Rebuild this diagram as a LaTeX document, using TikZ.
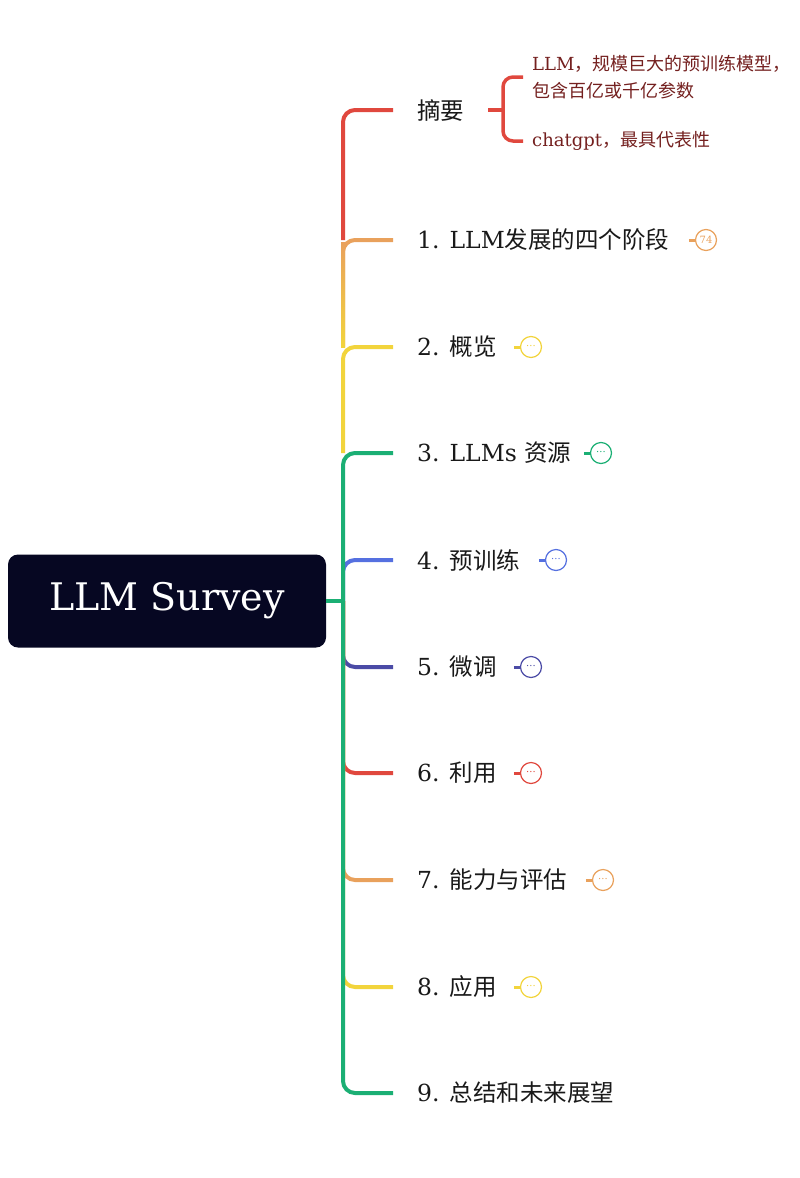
\documentclass[tikz,border=0pt]{standalone}
\usepackage{fontspec}
\usepackage{tikz}
\setmainfont{DejaVu Serif}
\newfontfamily\cjk{Noto Sans CJK SC}

\definecolor{mred}{HTML}{E0483E}
\definecolor{morange}{HTML}{E9A15C}
\definecolor{myellow}{HTML}{F2D43C}
\definecolor{mgreen}{HTML}{1BAF74}
\definecolor{mblue}{HTML}{5570E0}
\definecolor{mindigo}{HTML}{4B4BA6}
\definecolor{rootnavy}{HTML}{060722}
\definecolor{leafred}{HTML}{74201F}

\tikzset{
  root/.style={fill=rootnavy, text=white, rounded corners=10pt, minimum width=318pt,
    minimum height=93pt, font=\fontsize{38}{38}\selectfont},
  topic/.style={anchor=west, inner sep=0pt, text=black!90, font=\fontsize{23.5}{28}\selectfont},
  leaf/.style={anchor=west, inner sep=0pt, align=left, text=leafred, font=\fontsize{18}{27}\selectfont},
  fold/.style={circle, draw=#1, fill=white, text=#1, line width=1.2pt, minimum size=21pt,
    inner sep=0pt, font=\fontsize{10}{10}\selectfont},
  branch/.style={line width=4pt, rounded corners=12pt},
}

\begin{document}
\begin{tikzpicture}[x=1pt, y=-1pt]
  \useasboundingbox (0,0) rectangle (800,1178);
  % root
  \node[root] (llm) at (167,601) {LLM Survey};
  \coordinate (hub) at (343,601);
  % topics
  \node[topic] (b0) at (417,110) {\cjk 摘要};
  \node[topic] (b1) at (417,240) {1. LLM{\cjk 发展的四个阶段}};
  \node[topic] (b2) at (417,347) {2. {\cjk 概览}};
  \node[topic] (b3) at (417,453) {3. LLMs {\cjk 资源}};
  \node[topic] (b4) at (417,560) {4. {\cjk 预训练}};
  \node[topic] (b5) at (417,667) {5. {\cjk 微调}};
  \node[topic] (b6) at (417,773) {6. {\cjk 利用}};
  \node[topic] (b7) at (417,880) {7. {\cjk 能力与评估}};
  \node[topic] (b8) at (417,987) {8. {\cjk 应用}};
  \node[topic] (b9) at (417,1093) {9. {\cjk 总结和未来展望}};

  % branches below the root first, green trunk over them
  \draw[branch, mblue] (hub) |- ([xshift=-24pt]b4.west);
  \draw[branch, mindigo] (hub) |- ([xshift=-24pt]b5.west);
  \draw[branch, mred] (hub) |- ([xshift=-24pt]b6.west);
  \draw[branch, morange] (hub) |- ([xshift=-24pt]b7.west);
  \draw[branch, myellow] (hub) |- ([xshift=-24pt]b8.west);
  \draw[branch, mgreen] (hub) |- ([xshift=-24pt]b9.west);
  \draw[branch, mgreen] (hub) |- ([xshift=-24pt]b3.west);
  \draw[line width=4pt, mgreen] (llm.east) -- (hub);
  % upper trunk, one colour per stretch
  \draw[branch, mred] (b1.west -| hub) |- ([xshift=-24pt]b0.west);
  \draw[branch, morange] (b2.west -| hub) |- ([xshift=-24pt]b1.west);
  \shade[top color=morange, bottom color=myellow] (341,242) rectangle (345,347);
  \draw[branch, myellow] (b3.west -| hub) |- ([xshift=-24pt]b2.west);

  % abstract leaves
  \node[leaf] (l1) at (532,77) {LLM{\cjk ，规模巨大的预训练模型，}\\{\cjk 包含百亿或千亿参数}};
  \node[leaf] (l2) at (532,141) {chatgpt{\cjk ，最具代表性}};
  \coordinate (fork) at (503,110);
  \draw[line width=4pt, mred] ([xshift=24pt]b0.east) -- (fork);
  \draw[line width=3.5pt, mred, rounded corners=10pt] ([xshift=-9pt]l1.west) -| (fork) |- ([xshift=-9pt]l2.west);

  % folded markers
  \node[fold=morange] (f1) at (706,240) {74};
  \node[fold=myellow] (f2) at (531,347) {···};
  \node[fold=mgreen] (f3) at (601,453) {···};
  \node[fold=mblue] (f4) at (556,560) {···};
  \node[fold=mindigo] (f5) at (531,667) {···};
  \node[fold=mred] (f6) at (531,773) {···};
  \node[fold=morange] (f7) at (603,880) {···};
  \node[fold=myellow] (f8) at (531,987) {···};
  \draw[line width=3pt, morange] ([xshift=-6pt]f1.west) -- (f1.west);
  \draw[line width=3pt, myellow] ([xshift=-6pt]f2.west) -- (f2.west);
  \draw[line width=3pt, mgreen] ([xshift=-6pt]f3.west) -- (f3.west);
  \draw[line width=3pt, mblue] ([xshift=-6pt]f4.west) -- (f4.west);
  \draw[line width=3pt, mindigo] ([xshift=-6pt]f5.west) -- (f5.west);
  \draw[line width=3pt, mred] ([xshift=-6pt]f6.west) -- (f6.west);
  \draw[line width=3pt, morange] ([xshift=-6pt]f7.west) -- (f7.west);
  \draw[line width=3pt, myellow] ([xshift=-6pt]f8.west) -- (f8.west);
\end{tikzpicture}
\end{document}
